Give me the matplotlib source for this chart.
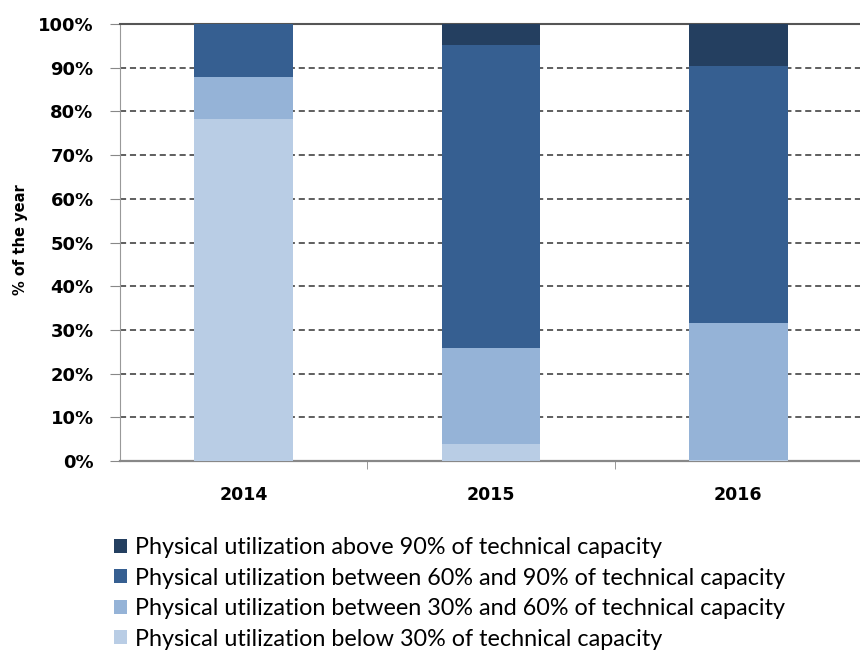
# Stacked bar chart: physical utilization as % of the year
import numpy as np
import matplotlib.pyplot as plt
from matplotlib.patches import Patch
from matplotlib.ticker import PercentFormatter

# Data (percent of the year)
years = ['2014', '2015', '2016']
below_30 = [78.3, 3.8, 0.3]
between_30_60 = [9.6, 22.1, 31.3]
between_60_90 = [12.1, 69.3, 58.8]
above_90 = [0.0, 4.8, 9.6]

labels = ['Physical utilization below 30% of technical capacity',
          'Physical utilization between 30% and 60% of technical capacity',
          'Physical utilization between 60% and 90% of technical capacity',
          'Physical utilization above 90% of technical capacity']
colors = ['#B9CDE5', '#95B3D7', '#365F91', '#243F60']

series = [below_30, between_30_60, between_60_90, above_90]

fig = plt.figure(figsize=(8.6, 6.5), dpi=100)
ax = fig.add_axes([120 / 860, 1 - 461 / 650, 742 / 860, 437 / 650])

x = np.arange(len(years))
bottom = np.zeros(len(years))
for vals, col in zip(series, colors):
    ax.bar(x, vals, width=0.40, bottom=bottom, color=col, zorder=3)
    bottom += np.array(vals)

# axes styling
ax.set_xlim(-0.5, 2.5)
ax.set_ylim(0, 100)
ax.set_yticks(np.arange(0, 101, 10))
ax.yaxis.set_major_formatter(PercentFormatter(decimals=0))
ax.grid(axis='y', linestyle=(0, (4, 2.5)), color='#333333', linewidth=1.1, zorder=0)

ax.set_xticks(x)
ax.set_xticklabels(years, fontsize=12.5, fontweight='bold')
ax.set_xticks([0.5, 1.5], minor=True)
ax.tick_params(axis='x', which='major', length=0, pad=18)
ax.tick_params(axis='x', which='minor', length=6, color='#888888', direction='out')
ax.tick_params(axis='y', length=7, color='#888888', direction='out', pad=12)
for lab in ax.get_yticklabels():
    lab.set_fontsize(13)
    lab.set_fontweight('bold')

ax.spines['right'].set_visible(False)
ax.spines['top'].set_color('#555555')
ax.spines['top'].set_linewidth(1.5)
ax.spines['left'].set_color('#999999')
ax.spines['bottom'].set_color('#888888')
ax.spines['bottom'].set_linewidth(1.6)

fig.text(21 / 860, 1 - 240 / 650, '% of the year', rotation=90, fontsize=10.5,
         fontweight='bold', ha='center', va='center')

# legend (top entry = darkest)
handles = [Patch(facecolor=c, edgecolor='none') for c in colors][::-1]
fig.legend(handles, labels[::-1], loc='upper left', bbox_to_anchor=(93 / 860, 1 - 516 / 650),
           frameon=False, prop={'family': 'Lato', 'size': 16.8},
           handlelength=0.55, handleheight=0.55, handletextpad=0.35, labelspacing=0.41)

fig.savefig('out.png', dpi=100)
